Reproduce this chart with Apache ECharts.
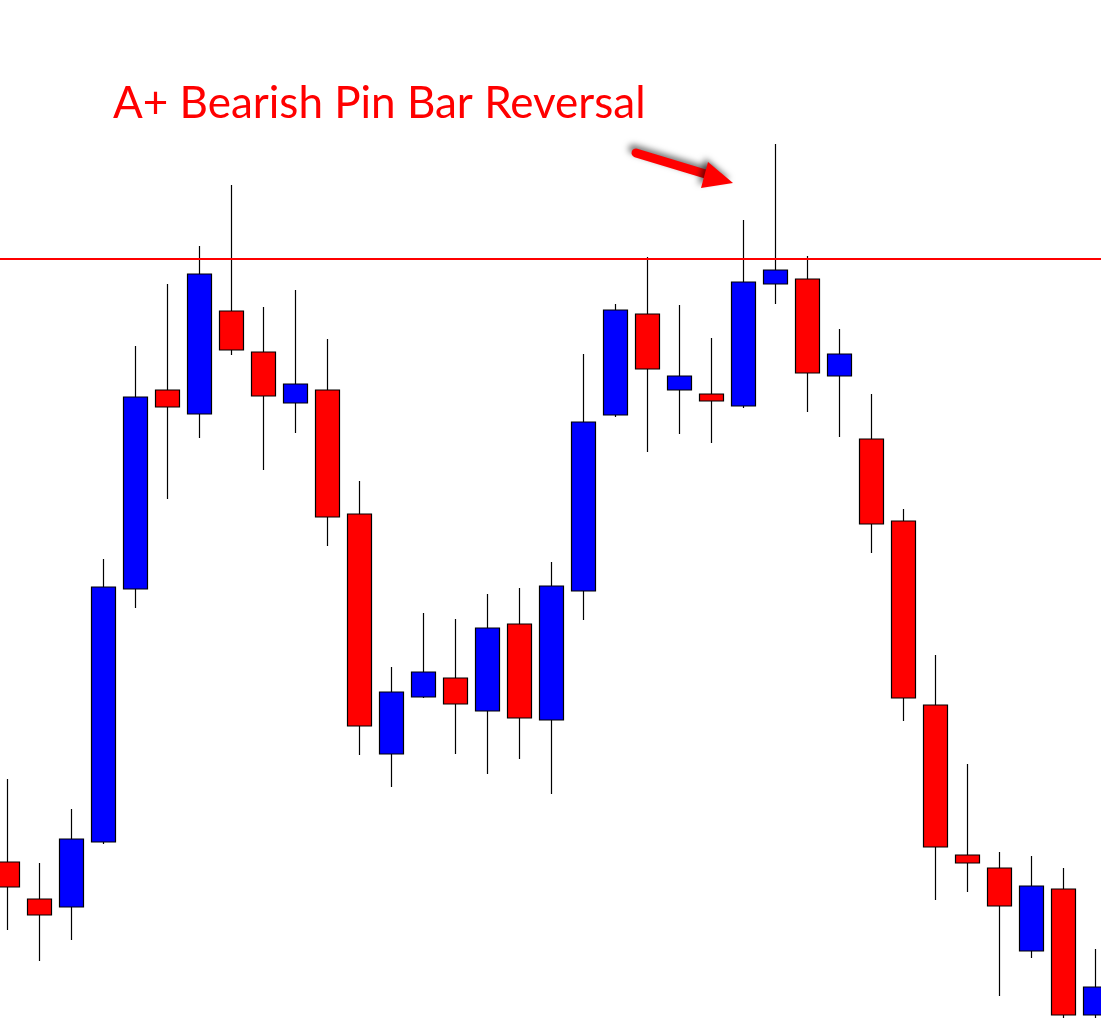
<!DOCTYPE html>
<html>
<head>
<meta charset="utf-8">
<script src="https://cdn.jsdelivr.net/npm/echarts@6/dist/echarts.min.js"></script>
<style>
html,body{margin:0;padding:0;background:#fff;}
#chart{width:1101px;height:1018px;}
</style>
</head>
<body>
<div id="chart"></div>
<script>
// Candle index labels
const categories = ['1','2','3','4','5','6','7','8','9','10','11','12','13','14','15','16','17','18','19','20','21','22','23','24','25','26','27','28','29','30','31','32','33','34','35'];
// Prices (chart units)
const opens  = [156,119,111,176,429,628,604,707,666,615,628,504,264,321,340,307,394,298,427,603,704,628,624,612,734,739,642,579,497,313,163,150, 67,129,  3];
const closes = [131,103,179,431,621,611,744,668,622,634,501,292,326,346,314,390,300,432,596,708,649,642,617,736,748,645,664,494,320,171,155,112,132,  3, 31];
const lows   = [ 88, 57, 78,174,410,519,580,663,548,585,472,263,231,320,264,244,259,224,398,601,566,584,575,610,714,606,581,465,297,118,126, 22, 60, -5, -5];
const highs  = [239,155,209,459,672,734,772,833,711,728,679,537,351,405,399,424,430,456,664,714,761,713,680,798,874,762,689,624,509,363,254,166,162,150, 69];
const resistanceLevel = 759;
const titleText = 'A+ Bearish Pin Bar Reversal';

const candleData = categories.map((c, i) => [opens[i], closes[i], lows[i], highs[i]]);

const chart = echarts.init(document.getElementById('chart'), null, {renderer: 'canvas'});
chart.setOption({
  backgroundColor: '#ffffff',
  animation: false,
  grid: {left: -8.7, top: 0, width: 1120, height: 1018, outerBoundsMode: 'none', containLabel: false},
  xAxis: {
    type: 'category', data: categories, boundaryGap: true,
    show: false
  },
  yAxis: {
    type: 'value', min: 0, max: 1018, show: false, splitLine: {show: false}
  },
  graphic: [
    {
      type: 'text', left: 113, top: 82,
      style: {text: titleText, fill: '#ff0000', font: '44px Lato'}
    },
    {
      type: 'line',
      shape: {x1: 636, y1: 153, x2: 712, y2: 176},
      style: {stroke: '#ff0000', lineWidth: 9, lineCap: 'round',
              shadowBlur: 6, shadowColor: 'rgba(0,0,0,0.55)', shadowOffsetX: -3, shadowOffsetY: -4},
      z: 10
    },
    {
      type: 'polygon',
      shape: {points: [[708, 162], [733, 183], [701, 188]]},
      style: {fill: '#ff0000',
              shadowBlur: 6, shadowColor: 'rgba(0,0,0,0.55)', shadowOffsetX: -3, shadowOffsetY: -4},
      z: 10
    }
  ],
  series: [{
    type: 'candlestick',
    data: candleData,
    barWidth: 24,
    itemStyle: {
      color: '#0000ff', color0: '#ff0000',
      borderColor: '#000000', borderColor0: '#000000', borderWidth: 1.2
    },
    markLine: {
      silent: true, symbol: 'none', label: {show: false},
      lineStyle: {color: '#ff0000', width: 2, type: 'solid'},
      data: [{yAxis: resistanceLevel}]
    }
  }]
});
</script>
</body>
</html>
